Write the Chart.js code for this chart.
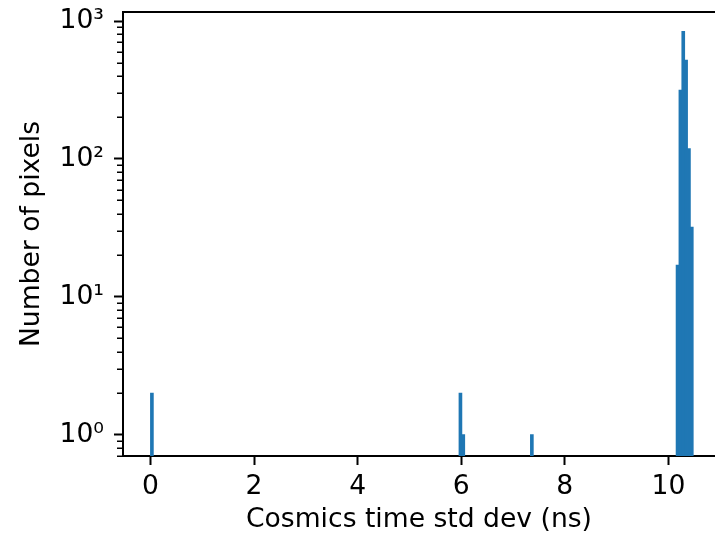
<!DOCTYPE html>
<html lang="en">
<head>
    <meta charset="UTF-8">
    <title>Cosmics time std dev</title>
    <script src="https://cdn.jsdelivr.net/npm/chart.js"></script>
    <style>
        html, body { margin: 0; padding: 0; background: #fff; }
        #hist { display: block; }
    </style>
</head>
<body>
    <canvas id="hist" width="715" height="536"></canvas>

    <script>
        // histogram bins that have entries (bin centres in ns, width ~0.055 ns)
        const binCenters = [0.028, 5.985, 6.040, 7.364, 10.177, 10.232, 10.287, 10.342, 10.397, 10.452];
        const pixelCounts = [2, 2, 1, 1, 17, 316, 843, 521, 119, 32];

        const xTicks = [0, 2, 4, 6, 8, 10];
        const yTicks = [1, 10, 100, 1000];
        const supers = { '0': '\u2070', '1': '\u00b9', '2': '\u00b2', '3': '\u00b3' };

        const FONT = "'DejaVu Sans', sans-serif";
        const FONT_SIZE = 26.6;

        // top spine + minor log ticks (matplotlib style)
        const framePlugin = {
            id: 'frame',
            afterDraw(chart) {
                const ctx = chart.ctx;
                const area = chart.chartArea;
                const y = chart.scales.y;
                ctx.save();
                ctx.strokeStyle = '#000';
                ctx.lineWidth = 2;
                ctx.beginPath();
                ctx.moveTo(area.left - 1, area.top);
                ctx.lineTo(area.right, area.top);
                ctx.stroke();

                ctx.lineWidth = 1.5;
                for (let k = -1; k <= 3; k++) {
                    for (let m = 2; m <= 9; m++) {
                        const v = m * Math.pow(10, k);
                        if (v < y.min || v > y.max) continue;
                        const py = Math.round(y.getPixelForValue(v)) + 0.25;
                        ctx.beginPath();
                        ctx.moveTo(area.left - 6, py);
                        ctx.lineTo(area.left, py);
                        ctx.stroke();
                    }
                }
                ctx.restore();
            }
        };

        const ctx = document.getElementById('hist').getContext('2d');
        const chart = new Chart(ctx, {
            type: 'bar',
            data: {
                datasets: [{
                    data: binCenters.map((x, i) => ({ x: x, y: pixelCounts[i] })),
                    backgroundColor: '#1f77b4',
                    borderWidth: 0,
                    inflateAmount: 0.4,
                    barPercentage: 1.0,
                    categoryPercentage: 1.0
                }]
            },
            options: {
                responsive: false,
                animation: false,
                devicePixelRatio: 1,
                layout: { padding: { left: 0, right: 0, top: 12, bottom: 0 } },
                plugins: {
                    legend: { display: false },
                    tooltip: { enabled: false }
                },
                scales: {
                    x: {
                        type: 'linear',
                        offset: false,
                        min: -0.53,
                        max: 10.9,
                        afterFit: (scale) => {
                            scale.height = 80;
                            scale.paddingLeft = 0;
                            scale.paddingRight = 0;
                        },
                        afterBuildTicks: (scale) => { scale.ticks = xTicks.map(v => ({ value: v })); },
                        grid: {
                            offset: false,
                            drawOnChartArea: false,
                            tickLength: 9,
                            tickWidth: 2,
                            tickColor: '#000'
                        },
                        border: { display: true, color: '#000', width: 2 },
                        ticks: {
                            padding: 6,
                            color: '#000',
                            maxRotation: 0,
                            font: { family: FONT, size: FONT_SIZE },
                            callback: (v) => String(v)
                        },
                        title: {
                            display: true,
                            text: 'Cosmics time std dev (ns)',
                            color: '#000',
                            font: { family: FONT, size: FONT_SIZE },
                            padding: { top: 0, bottom: 0 }
                        }
                    },
                    y: {
                        type: 'logarithmic',
                        min: 0.726,
                        max: 1165,
                        afterFit: (scale) => {
                            scale.width = 123;
                            scale.paddingTop = 0;
                            scale.paddingBottom = 0;
                        },
                        afterBuildTicks: (scale) => { scale.ticks = yTicks.map(v => ({ value: v, major: true })); },
                        grid: {
                            drawOnChartArea: false,
                            tickLength: 9,
                            tickWidth: 2,
                            tickColor: '#000'
                        },
                        border: { display: true, color: '#000', width: 2 },
                        ticks: {
                            padding: 10,
                            color: '#000',
                            font: { family: FONT, size: FONT_SIZE },
                            callback: (v) => '10' + supers[String(Math.round(Math.log10(v)))]
                        },
                        title: {
                            display: true,
                            text: 'Number of pixels',
                            color: '#000',
                            font: { family: FONT, size: FONT_SIZE },
                            padding: { top: 16, bottom: 0 }
                        }
                    }
                }
            },
            plugins: [framePlugin]
        });
    </script>
</body>
</html>
